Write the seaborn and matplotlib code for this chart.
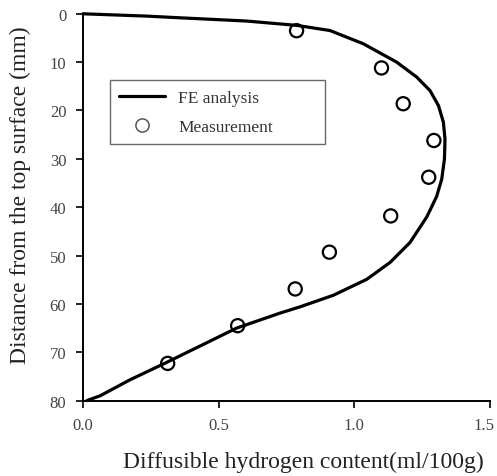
import numpy as np
import pandas as pd
import matplotlib
matplotlib.use("Agg")
import matplotlib.pyplot as plt
import matplotlib.transforms as mtransforms
import seaborn as sns

# FE analysis curve (content, depth)
fe_x = [0.0, 0.235, 0.357, 0.603, 0.788, 0.91, 1.033, 1.156, 1.230, 1.279, 1.310,
        1.328, 1.334, 1.332, 1.322, 1.303, 1.267, 1.205, 1.132, 1.046, 0.923,
        0.80, 0.726, 0.566, 0.308, 0.173, 0.063, 0.014]
fe_y = [0.0, 0.48, 0.83, 1.5, 2.4, 3.46, 6.2, 10.0, 13.1, 15.9, 19.0,
        22.4, 25.9, 30.0, 34.2, 37.8, 42.0, 47.3, 51.4, 54.9, 58.2,
        60.6, 61.9, 65.0, 72.1, 75.7, 79.0, 80.0]

# Measurements
meas_x = [0.787, 1.10, 1.18, 1.293, 1.274, 1.134, 0.908, 0.782, 0.570, 0.312]
meas_y = [3.5, 11.2, 18.6, 26.2, 33.8, 41.8, 49.3, 56.9, 64.5, 72.3]

xticks = [0.0, 0.5, 1.0, 1.5]
yticks = [0, 10, 20, 30, 40, 50, 60, 70, 80]

sns.set_theme(style="ticks")
plt.rcParams['font.family'] = ['Liberation Serif', 'DejaVu Serif']

fe = pd.DataFrame({"x": fe_x, "y": fe_y})
ms = pd.DataFrame({"x": meas_x, "y": meas_y})

fig = plt.figure(figsize=(4.97, 4.77), dpi=100)
ax = fig.add_axes([0.167, 0.158, 0.819, 0.811])

sns.lineplot(data=fe, x="x", y="y", sort=False, estimator=None, color="black",
             linewidth=2.3, ax=ax, label="FE analysis", clip_on=False,
             solid_joinstyle="round", solid_capstyle="round")
ax.plot([], [], linestyle="none", marker="o", markersize=9.5, markerfacecolor="none",
        markeredgecolor="#555555", markeredgewidth=1.1, label="Measurement")
sns.scatterplot(data=ms, x="x", y="y", marker="o", s=90, facecolor="none",
                edgecolor="black", linewidth=1.6, ax=ax, zorder=3, clip_on=False)

ax.set_xlim(0, 1.5)
ax.set_ylim(80, 0)
ax.set_xticks(xticks)
ax.set_xticklabels([f"{t:.1f}" for t in xticks])
ax.set_yticks(yticks)
ax.set_yticklabels([str(t) for t in yticks])
sns.despine(ax=ax)
for sp in ["left", "bottom"]:
    ax.spines[sp].set_linewidth(1.4)
    ax.spines[sp].set_color("black")
ax.tick_params(axis="both", direction="out", length=5, width=1.2, colors="black",
               labelcolor="#444444", labelsize=12, pad=7)

last = ax.get_xticklabels()[-1]
last.set_transform(last.get_transform() +
                   mtransforms.ScaledTranslation(-6 / 100, 0, fig.dpi_scale_trans))

ax.set_xlabel("Diffusible hydrogen content(ml/100g)", fontsize=17, color="#222222")
ax.set_ylabel("Distance from the top surface (mm)", fontsize=17, color="#222222")
ax.xaxis.set_label_coords((303 - 83) / 407, -(463 - 402) / 387, transform=ax.transAxes)
ax.yaxis.set_label_coords(-(83 - 20) / 407, 1 - (195 - 15) / 387, transform=ax.transAxes)
ax.xaxis.label.set_va("center")
ax.yaxis.label.set_va("center")

handles, labels = ax.get_legend_handles_labels()
hl = {l: h for h, l in zip(handles, labels)}
leg = ax.legend([hl["FE analysis"], hl["Measurement"]], ["FE analysis", "Measurement"],
                loc="upper left", bbox_to_anchor=(0.066, 0.654, 0.528, 0.175), mode="expand",
                frameon=True, fancybox=False, fontsize=12.5, handlelength=2.6,
                labelspacing=0.75, borderpad=0.55, edgecolor="#444444", borderaxespad=0)
leg.get_frame().set_linewidth(1.0)
for t in leg.get_texts():
    t.set_color("#333333")

fig.savefig("out.png", dpi=100)
